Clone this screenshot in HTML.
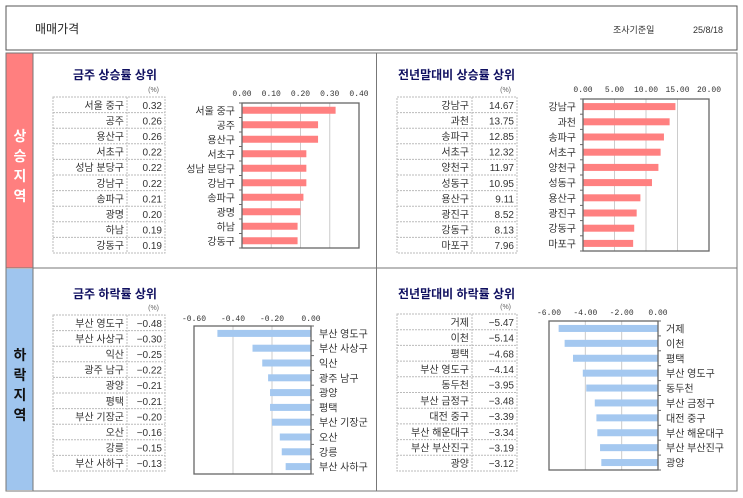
<!DOCTYPE html>
<html><head><meta charset="utf-8">
<style>
body{margin:0;background:#fff;}
svg text{font-family:"Liberation Sans","Noto Sans CJK KR",sans-serif;}
.mono{font-family:"Liberation Mono","Noto Sans CJK KR",monospace;}
</style></head>
<body>
<svg id="s" width="743" height="493" viewBox="0 0 743 493" xmlns="http://www.w3.org/2000/svg">
<rect x="6" y="6" width="731" height="44" fill="#fff" stroke="#555" stroke-width="1"/>
<text x="35" y="33" font-size="12" fill="#222">매매가격</text>
<text x="613" y="33" font-size="9" fill="#333">조사기준일</text>
<text x="693" y="33" font-size="9" fill="#333">25/8/18</text>
<rect x="6" y="53" width="731" height="438" fill="#fff" stroke="#777"/>
<rect x="6.5" y="53.5" width="26" height="214" fill="#ff7f7f"/>
<rect x="6.5" y="269" width="26" height="221" fill="#9fc5ee"/>
<line x1="33" y1="53" x2="33" y2="491" stroke="#777"/>
<line x1="376.5" y1="53" x2="376.5" y2="491" stroke="#777"/>
<line x1="6" y1="268" x2="737" y2="268" stroke="#777"/>
<g font-size="14" font-weight="bold" fill="#fff" text-anchor="middle">
<text x="20" y="141">상</text><text x="20" y="161">승</text><text x="20" y="181">지</text><text x="20" y="201">역</text></g>
<g font-size="14" font-weight="bold" fill="#111" text-anchor="middle">
<text x="20" y="360">하</text><text x="20" y="380">락</text><text x="20" y="400">지</text><text x="20" y="420">역</text></g>
<g id="content"></g>
</svg>
<script>
// panel 1: weekly rise
const p1Cats=["서울 중구","공주","용산구","서초구","성남 분당구","강남구","송파구","광명","하남","강동구"];
const p1Vals=[0.32,0.26,0.26,0.22,0.22,0.22,0.21,0.20,0.19,0.19];
const p1Ticks=[0,0.1,0.2,0.3,0.4];
// panel 2: YTD rise
const p2Cats=["강남구","과천","송파구","서초구","양천구","성동구","용산구","광진구","강동구","마포구"];
const p2Vals=[14.67,13.75,12.85,12.32,11.97,10.95,9.11,8.52,8.13,7.96];
const p2Ticks=[0,5,10,15,20];
// panel 3: weekly fall
const p3Cats=["부산 영도구","부산 사상구","익산","광주 남구","광양","평택","부산 기장군","오산","강릉","부산 사하구"];
const p3Vals=[-0.48,-0.30,-0.25,-0.22,-0.21,-0.21,-0.20,-0.16,-0.15,-0.13];
const p3Ticks=[-0.6,-0.4,-0.2,0];
// panel 4: YTD fall
const p4Cats=["거제","이천","평택","부산 영도구","동두천","부산 금정구","대전 중구","부산 해운대구","부산 부산진구","광양"];
const p4Vals=[-5.47,-5.14,-4.68,-4.14,-3.95,-3.48,-3.39,-3.34,-3.19,-3.12];
const p4Ticks=[-6,-4,-2,0];

const NS="http://www.w3.org/2000/svg";
const root=document.getElementById('content');
function mk(tag,attrs,parent,txt){const e=document.createElementNS(NS,tag);for(const k in attrs)e.setAttribute(k,attrs[k]);if(txt!==undefined)e.textContent=txt;(parent||root).appendChild(e);return e;}

function panel(o){
  const g=mk('g',{});
  
  
  const t=mk('text',{x:o.tx,y:o.ty,'font-size':12,'font-weight':'bold',fill:'#101060'},g,o.title);
  
  
  const u=mk('text',{x:o.tabR-6,y:o.tabY-5,'font-size':7,fill:'#666','text-anchor':'end'},g,'(%)');
  
  
  // table
  const rh=(o.tabB-o.tabY)/10;
  const tb=mk('g',{},g);
  
  
  mk('rect',{x:o.tabL,y:o.tabY,width:o.tabR-o.tabL,height:o.tabB-o.tabY,fill:'none',stroke:'#bbb','stroke-dasharray':'2,1'},tb);
  mk('line',{x1:o.tabM,y1:o.tabY,x2:o.tabM,y2:o.tabB,stroke:'#bbb','stroke-dasharray':'2,1'},tb);
  for(let i=0;i<10;i++){
    const y=o.tabY+rh*i;
    if(i>0)mk('line',{x1:o.tabL,y1:y,x2:o.tabR,y2:y,stroke:'#bbb','stroke-dasharray':'2,1'},tb);
    const a=mk('text',{x:o.tabM-3,y:y+rh/2+4,'font-size':10,fill:'#333','text-anchor':'end'},tb,o.cats[i]);
    
    
    const b=mk('text',{x:o.tabR-3,y:y+rh/2+4,'font-size':10,fill:'#333','text-anchor':'end'},tb,o.vals[i].toFixed(2).replace('-','−'));
    
    
  }
  // chart
  const lo=o.ticks[0],hi=o.ticks[o.ticks.length-1];
  const X=v=>o.pL+(v-lo)/(hi-lo)*(o.pR-o.pL);
  const ch=mk('g',{},g);
  
  
  o.ticks.forEach(tv=>{
    const x=X(tv);
    if(tv!==lo&&tv!==hi)mk('line',{x1:x,y1:o.pT,x2:x,y2:o.pB,stroke:'#ccc'},ch);
    const tl=mk('text',{x:x,y:o.pT-o.tickGap,'font-size':8,fill:'#333','text-anchor':'middle','class':'mono'},ch,tv.toFixed(2));
    
    
  });
  const bh=(o.pB-o.pT)/10;
  const zero=X(0);
  o.vals.forEach((v,i)=>{
    const yc=o.pT+bh*(i+0.5);
    const x0=Math.min(zero,X(v)),w=Math.abs(X(v)-zero);
    const r=mk('rect',{x:x0,y:yc-3.5,width:w,height:7,fill:o.color},ch);
    
    
    const lx=o.neg?o.pR+8:o.pL-7;
    const l=mk('text',{x:lx,y:yc+4,'font-size':10,fill:'#333','text-anchor':o.neg?'start':'end'},ch,o.cats[i]);
    
    
  });
  // category axis ticks
  const ax=o.neg?o.pR:o.pL;
  for(let i=0;i<=10;i++){const y=o.pT+bh*i;mk('line',{x1:ax,y1:y,x2:o.neg?ax+3:ax-3,y2:y,stroke:'#666'},ch);}
  mk('rect',{x:o.pL,y:o.pT,width:o.pR-o.pL,height:o.pB-o.pT,fill:'none',stroke:'#666','stroke-width':1.3},ch);
}
panel({name:'weekly-rise-panel',title:'금주 상승률 상위',tx:73,ty:79,cats:p1Cats,vals:p1Vals,ticks:p1Ticks,tabL:53,tabM:127,tabR:165,tabY:97,tabB:253,pL:242,pR:359,pT:103,pB:248,tickGap:7,color:'#ff8080',neg:false});
panel({name:'ytd-rise-panel',title:'전년말대비 상승률 상위',tx:398,ty:79,cats:p2Cats,vals:p2Vals,ticks:p2Ticks,tabL:397,tabM:472,tabR:517,tabY:97,tabB:253,pL:583,pR:709,pT:99,pB:251,tickGap:7,color:'#ff8080',neg:false});
panel({name:'weekly-fall-panel',title:'금주 하락률 상위',tx:73,ty:298,cats:p3Cats,vals:p3Vals,ticks:p3Ticks,tabL:53,tabM:127,tabR:165,tabY:315,tabB:471,pL:194,pR:311,pT:326,pB:474,tickGap:5,color:'#a4c8f0',neg:true});
panel({name:'ytd-fall-panel',title:'전년말대비 하락률 상위',tx:398,ty:298,cats:p4Cats,vals:p4Vals,ticks:p4Ticks,tabL:397,tabM:472,tabR:517,tabY:314,tabB:471,pL:549,pR:658,pT:321,pB:470,tickGap:6,color:'#a4c8f0',neg:true});
</script>
</body></html>
